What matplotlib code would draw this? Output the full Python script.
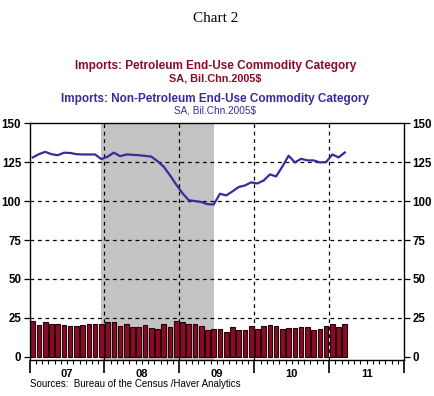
import matplotlib.pyplot as plt
import numpy as np

# Monthly data, Jan 2007 - Mar 2011 (Bil. Chn. 2005$, SA)
petroleo = [23.0, 20.7, 22.4, 21.1, 21.1, 20.4, 19.8, 19.8, 20.4, 21.3, 21.3, 21.3,
            22.4, 22.4, 20.0, 21.3, 19.3, 19.3, 20.7, 18.7, 17.8, 21.3, 19.3, 23.0,
            22.4, 21.3, 21.3, 19.8, 17.4, 17.8, 17.8, 15.9, 19.1, 17.4, 17.4, 19.8,
            17.8, 19.8, 20.4, 19.8, 17.8, 18.5, 18.5, 19.1, 19.1, 17.4, 17.8, 19.8,
            21.1, 19.1, 21.1]
no_petroleo = [128.0, 130.1, 131.6, 130.1, 129.4, 131.0, 130.9, 130.1, 129.9, 129.9, 129.9, 126.9,
               128.5, 131.1, 128.8, 129.9, 129.7, 129.4, 129.0, 128.5, 125.6, 122.0, 116.5, 110.5,
               105.0, 100.5, 100.0, 99.4, 98.0, 97.8, 104.7, 103.6, 106.2, 109.0, 110.0, 112.0,
               111.3, 113.2, 117.1, 115.8, 122.2, 129.1, 124.8, 127.1, 126.1, 126.1, 124.8, 125.0,
               129.9, 128.0, 131.2]
anios = ['07', '08', '09', '10', '11']
recesion = (2007 + 11.5/12, 2009 + 5.6/12)

rojo = '#8c0a26'
azul = '#3a2a9c'

x = 2007 + (np.arange(len(petroleo)) + 0.5) / 12

fig = plt.figure(figsize=(4.35, 3.96), dpi=100)
ax = fig.add_axes([0.068, 0.091, 0.861, 0.598])

ax.axvspan(recesion[0], recesion[1], color='#c3c3c3', lw=0, zorder=0)

ax.bar(x, petroleo, width=0.75/12, color=rojo, edgecolor='#1e0006', lw=0.8, zorder=2)
ax.plot(x, no_petroleo, color=azul, lw=1.6, zorder=3)

# rejilla punteada
for v in [25, 50, 75, 100, 125]:
    ax.axhline(v, color='black', lw=0.9, ls=(0, (3, 3)), zorder=1)
for yr in [2008, 2009, 2010, 2011]:
    ax.axvline(yr, color='black', lw=0.9, ls=(0, (3, 3)), zorder=1)

ax.set_xlim(2007, 2012)
ax.set_ylim(-2, 150)

ax.set_yticks([0, 25, 50, 75, 100, 125, 150])
ax.tick_params(axis='y', which='both', left=True, right=True, labelleft=True, labelright=True,
               direction='out', length=4, width=0.9, labelsize=8.3, pad=2)
for lab in ax.get_yticklabels():
    lab.set_fontweight('bold')
    lab.set_family('Liberation Sans')

ax.set_xticks([2007, 2008, 2009, 2010, 2011, 2012])
ax.set_xticklabels([])
ax.set_xticks(2007 + np.arange(60) / 12, minor=True)
ax.tick_params(axis='x', which='major', direction='out', length=9, width=1.2)
ax.tick_params(axis='x', which='minor', direction='out', length=3, width=0.8)
for i, a in enumerate(anios):
    ax.text(2007.5 + i, -7.5, a, ha='center', va='top', fontsize=8, fontweight='bold',
            family='Liberation Sans')

for s in ax.spines.values():
    s.set_linewidth(1)

fig.text(0.495, 0.953, 'Chart 2', ha='center', va='center', fontsize=11, family='Liberation Serif')
fig.text(0.495, 0.833, 'Imports: Petroleum End-Use Commodity Category', ha='center', va='center',
         fontsize=8.5, fontweight='bold', color=rojo, family='Liberation Sans')
fig.text(0.495, 0.803, 'SA, Bil.Chn.2005$', ha='center', va='center',
         fontsize=7.8, fontweight='bold', color=rojo, family='Liberation Sans')
fig.text(0.495, 0.750, 'Imports: Non-Petroleum End-Use Commodity Category', ha='center', va='center',
         fontsize=8.5, fontweight='bold', color=azul, family='Liberation Sans')
fig.text(0.495, 0.722, 'SA, Bil.Chn.2005$', ha='center', va='center',
         fontsize=7.2, color=azul, family='Liberation Sans')
fig.text(0.07, 0.030, 'Sources:  Bureau of the Census /Haver Analytics', ha='left', va='center',
         fontsize=7, family='Liberation Sans')

fig.savefig('out.png', dpi=100)
